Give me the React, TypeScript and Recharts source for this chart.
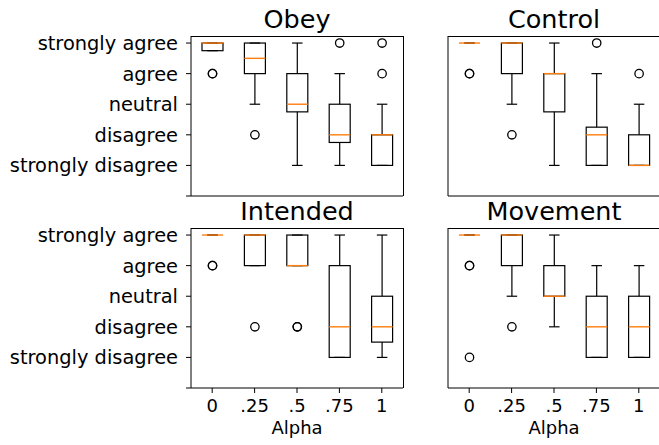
import { Bar, ComposedChart, XAxis, YAxis } from "recharts";

// Likert levels, indexed by score (0 is the blank bottom tick)
const levels = ["", "strongly disagree", "disagree", "neutral", "agree", "strongly agree"];
const alphas = ["0", ".25", ".5", ".75", "1"];
const yTicks = [0, 1, 2, 3, 4, 5];

// box stats per alpha: [whisker low, q1, median, q3, whisker high]
const obey = [
  [4.75, 4.75, 5, 5, 5],
  [3, 4, 4.5, 5, 5],
  [1, 2.75, 3, 4, 5],
  [1, 1.75, 2, 3, 4],
  [1, 1, 2, 2, 3],
];
const obeyFliers = [[4, 4], [2], [], [5], [4, 5]];

const control = [
  [5, 5, 5, 5, 5],
  [3, 4, 5, 5, 5],
  [1, 2.75, 4, 4, 5],
  [1, 1, 2, 2.25, 4],
  [1, 1, 1, 2, 3],
];
const controlFliers = [[4, 4], [2], [], [5], [4]];

const intended = [
  [5, 5, 5, 5, 5],
  [4, 4, 5, 5, 5],
  [4, 4, 4, 5, 5],
  [1, 1, 2, 4, 5],
  [1, 1.5, 2, 3, 5],
];
const intendedFliers = [[4, 4], [2], [2, 2], [], []];

const movement = [
  [5, 5, 5, 5, 5],
  [3, 4, 5, 5, 5],
  [2, 3, 3, 4, 5],
  [1, 1, 2, 3, 4],
  [1, 1, 2, 3, 4],
];
const movementFliers = [[4, 4, 1], [2], [], [], []];

const median = "#ff7f0e";

function buildRows(stats: number[][], fliers: number[][]) {
  return alphas.map((alpha, i) => {
    const all = [...stats[i], ...fliers[i]];
    return {
      alpha,
      stats: stats[i],
      fliers: fliers[i],
      lo: Math.min(...all),
      hi: Math.max(...all),
    };
  });
}

function BoxShape(props: any) {
  const { x, y, width, height, payload } = props;
  if (x == null || y == null) return null;
  const top = Math.min(y, y + height);
  const bot = Math.max(y, y + height);
  const { lo, hi, stats, fliers } = payload;
  const py = (v: number) => (hi === lo ? top : bot - ((bot - top) * (v - lo)) / (hi - lo));
  const cx = x + width / 2;
  const [wlo, q1, med, q3, whi] = stats;
  const cap = width / 4;
  return (
    <g>
      <line x1={cx} x2={cx} y1={py(q1)} y2={py(wlo)} stroke="#000" strokeWidth={1.2} />
      <line x1={cx} x2={cx} y1={py(q3)} y2={py(whi)} stroke="#000" strokeWidth={1.2} />
      <line x1={cx - cap} x2={cx + cap} y1={py(wlo)} y2={py(wlo)} stroke="#000" strokeWidth={1.2} />
      <line x1={cx - cap} x2={cx + cap} y1={py(whi)} y2={py(whi)} stroke="#000" strokeWidth={1.2} />
      <rect
        x={x}
        y={py(q3)}
        width={width}
        height={py(q1) - py(q3)}
        fill="none"
        stroke="#000"
        strokeWidth={1.2}
      />
      <line x1={x} x2={x + width} y1={py(med)} y2={py(med)} stroke={median} strokeWidth={1.4} />
      {fliers.map((f: number, k: number) => (
        <circle key={k} cx={cx} cy={py(f)} r={4.2} fill="none" stroke="#000" strokeWidth={1.3} />
      ))}
    </g>
  );
}

type PanelProps = {
  title: string;
  stats: number[][];
  fliers: number[][];
  left: number;
  top: number;
  yLabels: boolean;
  xLabels: boolean;
};

function Panel({ title, stats, fliers, left, top, yLabels, xLabels }: PanelProps) {
  const rows = buildRows(stats, fliers);
  const yAxisWidth = yLabels ? 191 : 8;
  const plotW = 212;
  const plotH = 160;
  const xAxisH = xLabels ? 30 : 10;
  const width = yAxisWidth + plotW + 1;
  const height = 2 + plotH + xAxisH;
  const plotLeft = left + yAxisWidth;
  const plotTop = top + 2;

  return (
    <>
      <div
        style={{
          position: "absolute",
          left: plotLeft,
          width: plotW,
          top: plotTop - 29.3,
          textAlign: "center",
          fontSize: 25.5,
          lineHeight: "25.5px",
        }}
      >
        {title}
      </div>
      <div style={{ position: "absolute", left, top }}>
        <ComposedChart
          width={width}
          height={height}
          data={rows}
          margin={{ top: 2, right: 1, bottom: 0, left: 0 }}
        >
          <XAxis
            dataKey="alpha"
            type="category"
            height={xAxisH}
            tickSize={5}
            tickMargin={6}
            interval={0}
            axisLine={{ stroke: "#000", strokeWidth: 1 }}
            tickLine={{ stroke: "#000", strokeWidth: 1 }}
            tick={xLabels ? { fill: "#000", fontSize: 18 } : false}
          />
          <YAxis
            type="number"
            domain={[0, 5.23]}
            ticks={yTicks}
            interval={0}
            allowDataOverflow
            width={yAxisWidth}
            tickSize={5}
            tickMargin={8}
            tickFormatter={(v: number) => levels[v]}
            axisLine={{ stroke: "#000", strokeWidth: 1 }}
            tickLine={{ stroke: "#000", strokeWidth: 1 }}
            tick={yLabels ? { fill: "#000", fontSize: 19.4 } : false}
          />
          <Bar
            dataKey={(d: any) => [d.lo, d.hi]}
            barSize={21}
            shape={BoxShape}
            isAnimationActive={false}
          />
        </ComposedChart>
      </div>
      {/* top and right spines */}
      <div
        style={{
          position: "absolute",
          left: plotLeft,
          top: plotTop - 0.5,
          width: plotW + 0.5,
          height: plotH,
          borderTop: "1px solid #000",
          borderRight: "1px solid #000",
          boxSizing: "border-box",
          pointerEvents: "none",
        }}
      />
      {xLabels && (
        <div
          style={{
            position: "absolute",
            left: plotLeft,
            width: plotW,
            top: plotTop + plotH + 31.3,
            textAlign: "center",
            fontSize: 18,
            lineHeight: "18px",
          }}
        >
          Alpha
        </div>
      )}
    </>
  );
}

export default function App() {
  return (
    <div
      style={{
        position: "absolute",
        left: 0,
        top: 0,
        width: 659,
        height: 445,
        overflow: "hidden",
        background: "#fff",
        fontFamily: "'DejaVu Sans', sans-serif",
        color: "#000",
      }}
    >
      <Panel title="Obey" stats={obey} fliers={obeyFliers} left={0} top={34} yLabels xLabels={false} />
      <Panel title="Control" stats={control} fliers={controlFliers} left={440} top={34} yLabels={false} xLabels={false} />
      <Panel title="Intended" stats={intended} fliers={intendedFliers} left={0} top={226} yLabels xLabels />
      <Panel title="Movement" stats={movement} fliers={movementFliers} left={440} top={226} yLabels={false} xLabels />
    </div>
  );
}
